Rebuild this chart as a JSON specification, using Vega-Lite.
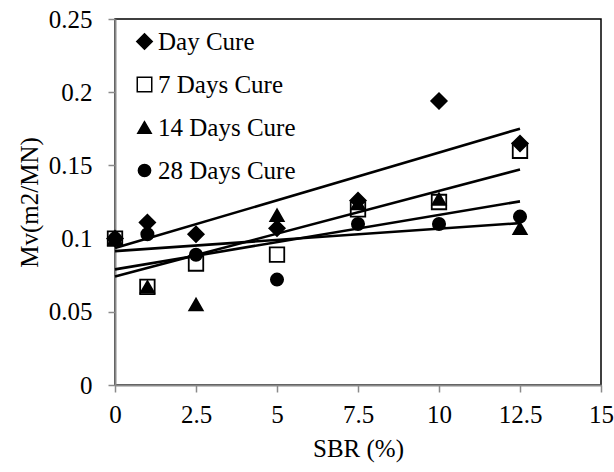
{
  "$schema": "https://vega.github.io/schema/vega-lite/v6.json",
  "autosize": "none",
  "width": 486,
  "height": 366,
  "padding": {"left": 115, "top": 19, "right": 13, "bottom": 87},
  "background": "white",
  "config": {
    "view": {"stroke": "#000000", "strokeWidth": 1.5},
    "font": "Liberation Serif, Times New Roman, serif",
    "axis": {
      "grid": false,
      "domainColor": "#8a8a8a",
      "domainWidth": 2,
      "tickColor": "#8a8a8a",
      "tickWidth": 1.5,
      "tickSize": 7,
      "labelFont": "Liberation Serif, Times New Roman, serif",
      "labelFontSize": 25,
      "labelColor": "#000000",
      "titleFont": "Liberation Serif, Times New Roman, serif",
      "titleFontSize": 25,
      "titleFontWeight": "normal",
      "titleColor": "#000000"
    },
    "legend": {
      "labelFont": "Liberation Serif, Times New Roman, serif",
      "labelFontSize": 25,
      "labelColor": "#000000"
    }
  },
  "data": {
    "values": [
      {"series": "Day Cure", "sbr": 0, "mv": 0.100},
      {"series": "Day Cure", "sbr": 1, "mv": 0.111},
      {"series": "Day Cure", "sbr": 2.5, "mv": 0.103},
      {"series": "Day Cure", "sbr": 5, "mv": 0.107},
      {"series": "Day Cure", "sbr": 7.5, "mv": 0.126},
      {"series": "Day Cure", "sbr": 10, "mv": 0.194},
      {"series": "Day Cure", "sbr": 12.5, "mv": 0.165},
      {"series": "7 Days Cure", "sbr": 0, "mv": 0.100},
      {"series": "7 Days Cure", "sbr": 1, "mv": 0.067},
      {"series": "7 Days Cure", "sbr": 2.5, "mv": 0.083},
      {"series": "7 Days Cure", "sbr": 5, "mv": 0.089},
      {"series": "7 Days Cure", "sbr": 7.5, "mv": 0.120},
      {"series": "7 Days Cure", "sbr": 10, "mv": 0.125},
      {"series": "7 Days Cure", "sbr": 12.5, "mv": 0.160},
      {"series": "14 Days Cure", "sbr": 0, "mv": 0.100},
      {"series": "14 Days Cure", "sbr": 1, "mv": 0.067},
      {"series": "14 Days Cure", "sbr": 2.5, "mv": 0.055},
      {"series": "14 Days Cure", "sbr": 5, "mv": 0.116},
      {"series": "14 Days Cure", "sbr": 7.5, "mv": 0.124},
      {"series": "14 Days Cure", "sbr": 10, "mv": 0.127},
      {"series": "14 Days Cure", "sbr": 12.5, "mv": 0.107},
      {"series": "28 Days Cure", "sbr": 0, "mv": 0.100},
      {"series": "28 Days Cure", "sbr": 1, "mv": 0.103},
      {"series": "28 Days Cure", "sbr": 2.5, "mv": 0.089},
      {"series": "28 Days Cure", "sbr": 5, "mv": 0.072},
      {"series": "28 Days Cure", "sbr": 7.5, "mv": 0.110},
      {"series": "28 Days Cure", "sbr": 10, "mv": 0.110},
      {"series": "28 Days Cure", "sbr": 12.5, "mv": 0.115}
    ]
  },
  "layer": [
    {
      "mark": {"type": "point", "filled": false, "stroke": "#000000", "strokeWidth": 1.8, "opacity": 1},
      "encoding": {
        "x": {
          "field": "sbr", "type": "quantitative",
          "scale": {"domain": [0, 15], "nice": false, "zero": true},
          "axis": {"title": "SBR (%)", "values": [0, 2.5, 5, 7.5, 10, 12.5, 15], "format": ".4~g", "labelPadding": 10, "titlePadding": 9, "labelFlush": false}
        },
        "y": {
          "field": "mv", "type": "quantitative",
          "scale": {"domain": [0, 0.25], "nice": false},
          "axis": {"title": "Mv(m2/MN)", "values": [0, 0.05, 0.1, 0.15, 0.2, 0.25], "format": ".4~g", "labelPadding": 16, "titlePadding": 6, "labelFlush": false}
        },
        "shape": {
          "field": "series", "type": "nominal",
          "scale": {"domain": ["Day Cure", "7 Days Cure", "14 Days Cure", "28 Days Cure"], "range": ["diamond", "square", "triangle-up", "circle"]},
          "legend": {"title": null, "orient": "none", "legendX": 17, "legendY": 10, "rowPadding": 17, "labelOffset": 1, "encode": {"symbols": {"update": {"stroke": {"value": "#000000"}, "strokeWidth": {"value": 1.8}}}}}
        },
        "fill": {
          "field": "series", "type": "nominal",
          "scale": {"domain": ["Day Cure", "7 Days Cure", "14 Days Cure", "28 Days Cure"], "range": ["#000000", "transparent", "#000000", "#000000"]},
          "legend": {"title": null, "orient": "none", "legendX": 17, "legendY": 10, "rowPadding": 17, "labelOffset": 1, "encode": {"symbols": {"update": {"stroke": {"value": "#000000"}, "strokeWidth": {"value": 1.8}}}}}
        },
        "size": {
          "field": "series", "type": "nominal",
          "scale": {"domain": ["Day Cure", "7 Days Cure", "14 Days Cure", "28 Days Cure"], "range": [240, 150, 190, 190]},
          "legend": {"title": null, "orient": "none", "legendX": 17, "legendY": 10, "rowPadding": 17, "labelOffset": 1, "encode": {"symbols": {"update": {"stroke": {"value": "#000000"}, "strokeWidth": {"value": 1.8}}}}}
        }
      }
    },
    {
      "transform": [
        {"regression": "mv", "on": "sbr", "groupby": ["series"], "extent": [0, 12.5]}
      ],
      "mark": {"type": "line", "color": "#000000", "strokeWidth": 2.6},
      "encoding": {
        "x": {"field": "sbr", "type": "quantitative"},
        "y": {"field": "mv", "type": "quantitative"},
        "detail": {"field": "series", "type": "nominal"}
      }
    }
  ]
}
